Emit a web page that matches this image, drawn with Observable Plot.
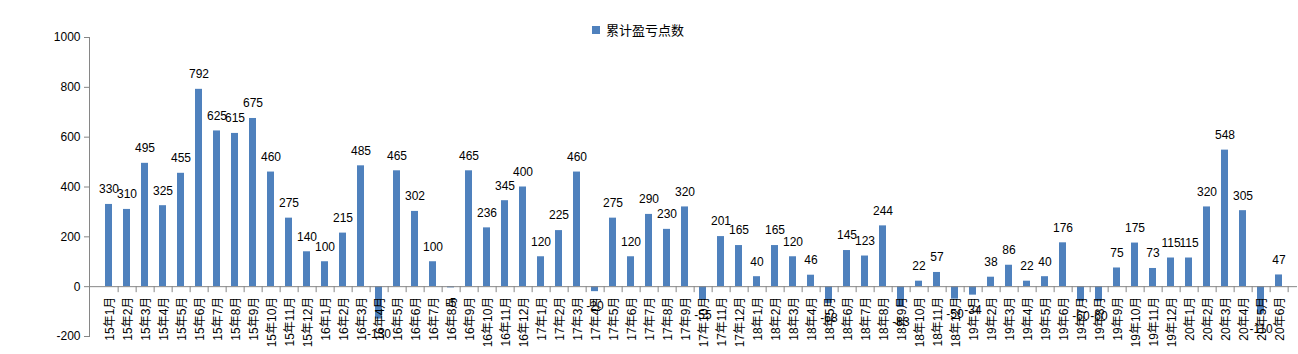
<!DOCTYPE html>
<html><head><meta charset="utf-8">
<script src="https://cdn.jsdelivr.net/npm/d3@7"></script>
<script src="https://cdn.jsdelivr.net/npm/@observablehq/plot@0.6"></script>
<style>
body{margin:0;background:#fff;}
#wrap{position:relative;width:1298px;height:354px;overflow:hidden;font-family:"Liberation Sans","Noto Sans CJK SC",sans-serif;}
#legend{position:absolute;left:592px;top:22px;height:16px;font-size:13px;line-height:16px;display:flex;align-items:center;font-family:"Noto Sans CJK SC",sans-serif;color:#000;z-index:2;}
#legend span{width:8px;height:8px;background:#4F81BD;display:inline-block;margin-right:6px;}
</style></head><body>
<div id="wrap"><div id="legend"><span></span>累计盈亏点数</div></div>
<script>
const seriesName = "累计盈亏点数";
const categories = [
  "15年1月","15年2月","15年3月","15年4月","15年5月","15年6月","15年7月","15年8月","15年9月","15年10月","15年11月","15年12月",
  "16年1月","16年2月","16年3月","16年4月","16年5月","16年6月","16年7月","16年8月","16年9月","16年10月","16年11月","16年12月",
  "17年1月","17年2月","17年3月","17年4月","17年5月","17年6月","17年7月","17年8月","17年9月","17年10月","17年11月","17年12月",
  "18年1月","18年2月","18年3月","18年4月","18年5月","18年6月","18年7月","18年8月","18年9月","18年10月","18年11月","18年12月",
  "19年1月","19年2月","19年3月","19年4月","19年5月","19年6月","19年7月","19年8月","19年9月","19年10月","19年11月","19年12月",
  "20年1月","20年2月","20年3月","20年4月","20年5月","20年6月"
];
const values = [
  330,310,495,325,455,792,625,615,675,460,275,140,
  100,215,485,-130,465,302,100,-5,465,236,345,400,
  120,225,460,-20,275,120,290,230,320,-55,201,165,
  40,165,120,46,-68,145,123,244,-83,22,57,-50,
  -34,38,86,22,40,176,-60,-60,75,175,73,115,
  115,320,548,305,-110,47
];
const yTicks = [-200,0,200,400,600,800,1000];

const data = categories.map((c, i) => ({month: c, value: values[i]}));

const W = 1298, H = 354, ML = 89, MR = 1, MT = 37, MB = 18;
const PI = 0.62;
const step = (W - ML - MR) / categories.length;

const blue = "#4F81BD";
const gray = "#868686";

const chart = Plot.plot({
  width: W, height: H,
  marginLeft: ML, marginRight: MR, marginTop: MT, marginBottom: MB,
  style: {fontFamily: '"Liberation Sans","Noto Sans CJK SC",sans-serif', fontSize: "12px", color: "#000", background: "#fff", overflow: "hidden"},
  x: {domain: categories, paddingInner: PI, paddingOuter: PI / 2, label: null, axis: null},
  y: {domain: [-200, 1000], ticks: yTicks, label: null, axis: null},
  marks: [
    Plot.barY(data, {x: "month", y: "value", fill: blue}),
    Plot.ruleY([0], {stroke: gray, strokeWidth: 1}),
    Plot.frame({anchor: "left", stroke: gray}),
    Plot.axisY({ticks: yTicks, tickSize: 5, tickPadding: 4, tickFormat: d => String(d), stroke: gray, fill: "#000", fontSize: 12, label: null}),
    // boundary tick marks between categories, hanging below the zero line
    Plot.ruleX(categories, {x: d => d, y1: 0, y2: 0, insetTop: 6, insetBottom: 0, dx: step / 2, stroke: gray}),
    // category labels, rotated, hanging below the zero line
    Plot.text(categories, {x: d => d, y: 0, text: d => d, rotate: -90, textAnchor: "end", lineAnchor: "middle", dy: 10, dx: 1, fill: "#000", fontSize: 12}),
    Plot.text(data.filter(d => d.value >= 0), {x: "month", y: "value", text: d => String(d.value), dy: -15, lineAnchor: "middle", fill: "#000", fontSize: 12}),
    Plot.text(data.filter(d => d.value < 0), {x: "month", y: "value", text: d => String(d.value), dy: 15, lineAnchor: "middle", fill: "#000", fontSize: 12})
  ]
});
document.getElementById("wrap").appendChild(chart);
</script>
</body></html>
